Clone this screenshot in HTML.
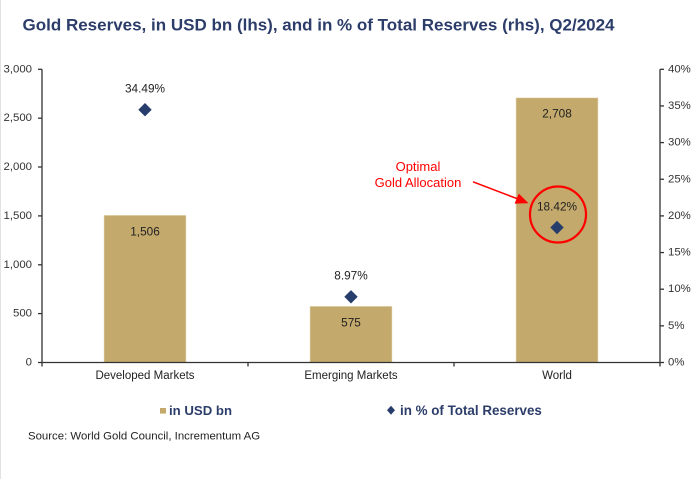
<!DOCTYPE html>
<html>
<head>
<meta charset="utf-8">
<style>
html,body{margin:0;padding:0;background:#fff;}
svg{display:block;}
text{font-family:"Liberation Sans",Arial,sans-serif;}
</style>
</head>
<body>
<svg width="695" height="479" viewBox="0 0 695 479" xmlns="http://www.w3.org/2000/svg">
<rect x="0" y="0" width="695" height="479" fill="#fff"/>
<line x1="0.5" y1="0" x2="0.5" y2="479" stroke="#e2e2e2" stroke-width="1"/>

<!-- Title -->
<text x="22.5" y="25" dominant-baseline="central" font-size="17" font-weight="bold" fill="#2c3d6a">Gold Reserves, in USD bn (lhs), and in % of Total Reserves (rhs), Q2/2024</text>

<!-- Bars -->
<g fill="#c3a96c" stroke="#e9dfc4" stroke-width="0.6">
<rect x="104" y="215.3" width="82" height="147.2"/>
<rect x="310" y="306.3" width="82" height="56.2"/>
<rect x="516" y="97.8" width="82" height="264.7"/>
</g>

<!-- Axes -->
<g stroke="#333" stroke-width="1.3" fill="none">
<line x1="42" y1="69.3" x2="42" y2="363"/>
<line x1="660" y1="69.3" x2="660" y2="363"/>
<line x1="41.5" y1="362.5" x2="660.5" y2="362.5"/>
<!-- left ticks -->
<line x1="38" y1="362.5" x2="42" y2="362.5"/>
<line x1="38" y1="313.6" x2="42" y2="313.6"/>
<line x1="38" y1="264.8" x2="42" y2="264.8"/>
<line x1="38" y1="215.9" x2="42" y2="215.9"/>
<line x1="38" y1="167.0" x2="42" y2="167.0"/>
<line x1="38" y1="118.2" x2="42" y2="118.2"/>
<line x1="38" y1="69.3" x2="42" y2="69.3"/>
<!-- right ticks -->
<line x1="660" y1="362.5" x2="664" y2="362.5"/>
<line x1="660" y1="325.85" x2="664" y2="325.85"/>
<line x1="660" y1="289.2" x2="664" y2="289.2"/>
<line x1="660" y1="252.55" x2="664" y2="252.55"/>
<line x1="660" y1="215.9" x2="664" y2="215.9"/>
<line x1="660" y1="179.25" x2="664" y2="179.25"/>
<line x1="660" y1="142.6" x2="664" y2="142.6"/>
<line x1="660" y1="105.95" x2="664" y2="105.95"/>
<line x1="660" y1="69.3" x2="664" y2="69.3"/>
<!-- bottom ticks -->
<line x1="42" y1="362.5" x2="42" y2="366.5"/>
<line x1="248" y1="362.5" x2="248" y2="366.5"/>
<line x1="454" y1="362.5" x2="454" y2="366.5"/>
<line x1="660" y1="362.5" x2="660" y2="366.5"/>
</g>

<!-- Left labels -->
<g font-size="11.4" fill="#333" text-anchor="end" dominant-baseline="central">
<text x="32" y="362.5">0</text>
<text x="32" y="313.6">500</text>
<text x="32" y="264.8">1,000</text>
<text x="32" y="215.9">1,500</text>
<text x="32" y="167.0">2,000</text>
<text x="32" y="118.2">2,500</text>
<text x="32" y="69.3">3,000</text>
</g>
<!-- Right labels -->
<g font-size="11.4" fill="#333" text-anchor="start" dominant-baseline="central">
<text x="668" y="362.5">0%</text>
<text x="668" y="325.85">5%</text>
<text x="668" y="289.2">10%</text>
<text x="668" y="252.55">15%</text>
<text x="668" y="215.9">20%</text>
<text x="668" y="179.25">25%</text>
<text x="668" y="142.6">30%</text>
<text x="668" y="105.95">35%</text>
<text x="668" y="69.3">40%</text>
</g>

<!-- Category labels -->
<g font-size="11.5" fill="#222" text-anchor="middle" dominant-baseline="central">
<text x="145" y="376">Developed Markets</text>
<text x="351" y="376">Emerging Markets</text>
<text x="557" y="376">World</text>
</g>

<!-- Value labels -->
<g font-size="11.8" fill="#222" text-anchor="middle" dominant-baseline="central">
<text x="145" y="231.7">1,506</text>
<text x="351" y="322.7">575</text>
<text x="557" y="113.3">2,708</text>
<text x="145" y="88.3">34.49%</text>
<text x="351" y="275.7">8.97%</text>
<text x="557" y="206.7">18.42%</text>
</g>

<!-- Diamonds -->
<g fill="#273d6b">
<polygon points="145,103 151.7,109.7 145,116.4 138.3,109.7"/>
<polygon points="351,290.1 357.7,296.8 351,303.5 344.3,296.8"/>
<polygon points="557,220.8 563.7,227.5 557,234.2 550.3,227.5"/>
</g>

<!-- Annotation -->
<g fill="#f00" font-size="13" text-anchor="middle" dominant-baseline="central">
<text x="418" y="166.7">Optimal</text>
<text x="418" y="182.3">Gold Allocation</text>
</g>
<line x1="473" y1="181.8" x2="518" y2="199" stroke="#f00" stroke-width="1.5"/>
<polygon points="528.5,203.3 514.6,203.6 518.8,193.6" fill="#f00"/>
<circle cx="558" cy="214.5" r="28" fill="none" stroke="#f00" stroke-width="2.2"/>

<!-- Legend -->
<rect x="160" y="408" width="6" height="5.6" fill="#c3a96c"/>
<text x="169" y="410.7" dominant-baseline="central" font-size="13.2" font-weight="bold" fill="#2c3d6a">in USD bn</text>
<polygon points="391,405.8 395,410.3 391,414.8 387,410.3" fill="#273d6b"/>
<text x="400" y="410.7" dominant-baseline="central" font-size="13.4" font-weight="bold" fill="#2c3d6a">in % of Total Reserves</text>

<!-- Source -->
<text x="28" y="436.7" dominant-baseline="central" font-size="11.4" fill="#222">Source: World Gold Council, Incrementum AG</text>
</svg>
</body>
</html>
